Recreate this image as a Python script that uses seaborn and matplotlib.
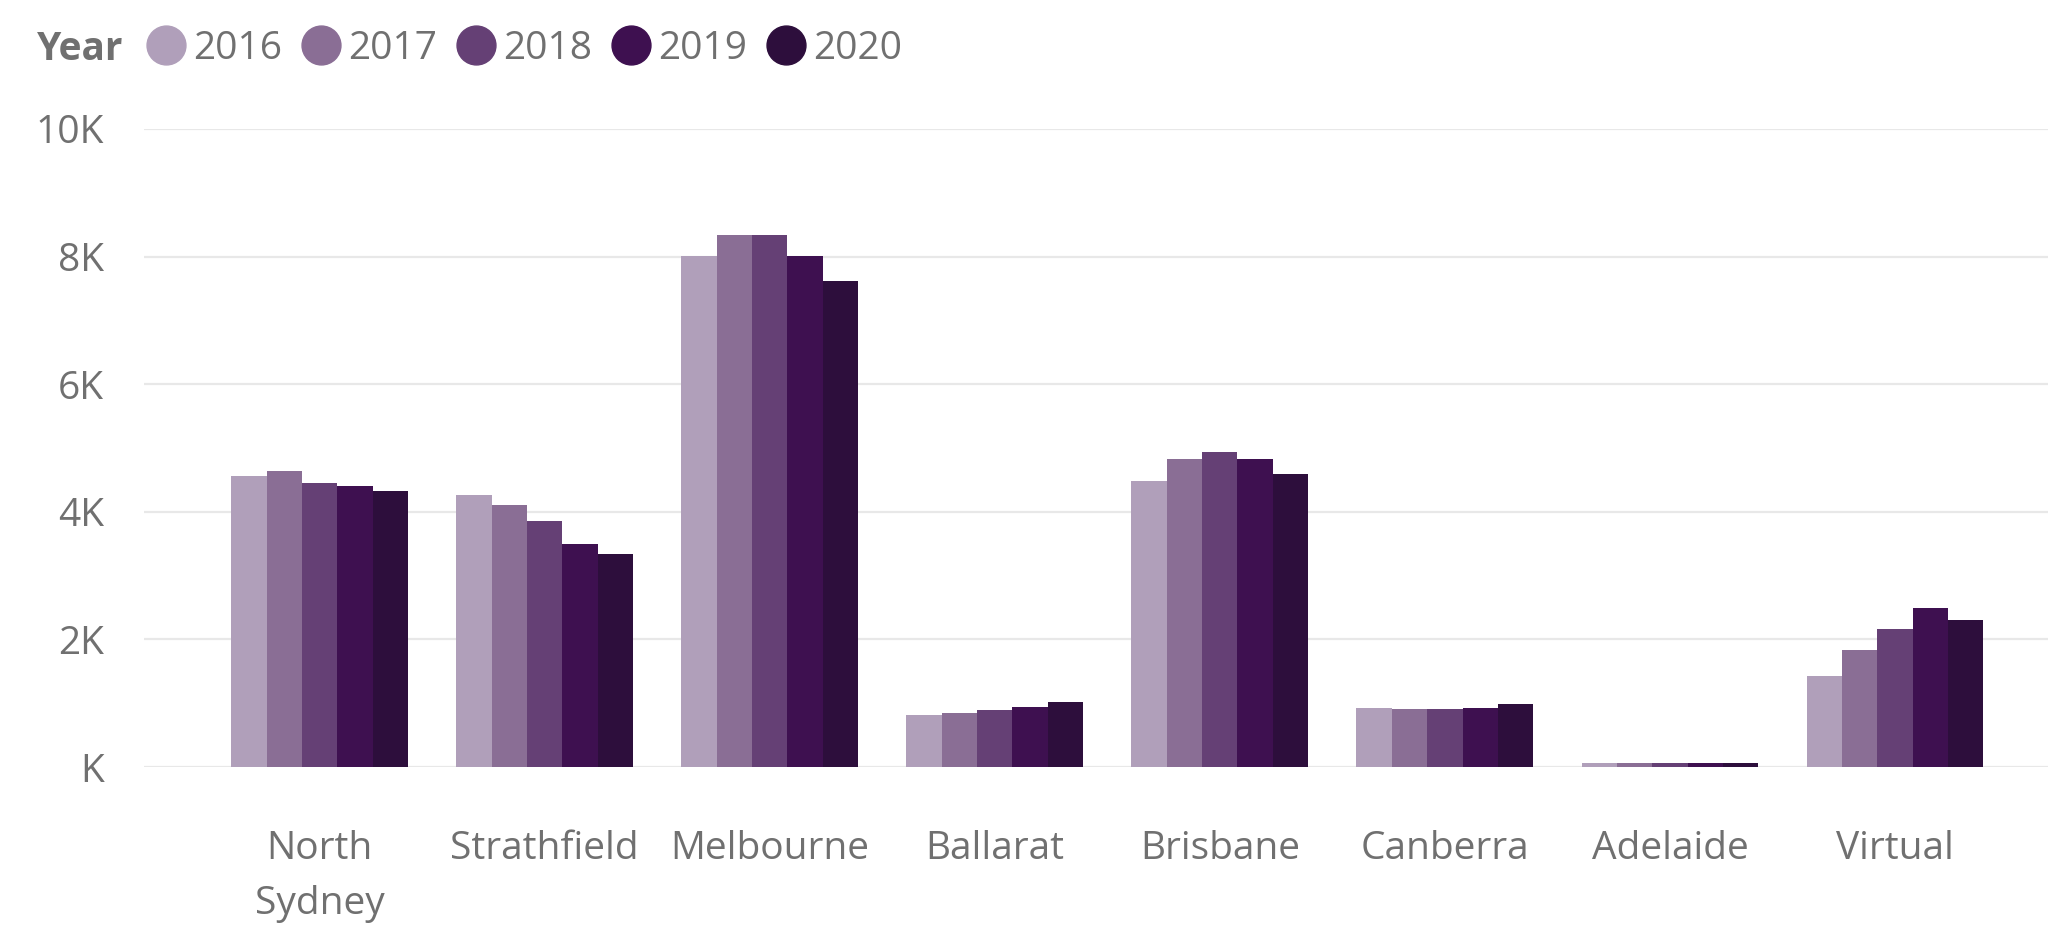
import pandas as pd
import numpy as np
import seaborn as sns
from matplotlib import pyplot as plt
from matplotlib.lines import Line2D
from matplotlib.ticker import FuncFormatter

## DATA ##
offices = ["North\nSydney", "Strathfield", "Melbourne", "Ballarat",
           "Brisbane", "Canberra", "Adelaide", "Virtual"]
years = ["2016", "2017", "2018", "2019", "2020"]
y2016 = [4560, 4270, 8010, 815, 4480, 920, 60, 1420]
y2017 = [4640, 4110, 8340, 846, 4830, 905, 60, 1830]
y2018 = [4450, 3860, 8340, 893, 4940, 905, 60, 2170]
y2019 = [4410, 3500, 8010, 940, 4830, 920, 60, 2490]
y2020 = [4330, 3340, 7620, 1018, 4590, 985, 60, 2300]
colors = ["#B09FBA", "#8A6E95", "#654075", "#3E1050", "#2D0E3C"]

df = pd.DataFrame({"Office": offices, "2016": y2016, "2017": y2017,
                   "2018": y2018, "2019": y2019, "2020": y2020})
df = df.melt(id_vars="Office", var_name="Year", value_name="Value")

## STYLE ##
sns.set_style("white")
plt.rcParams['font.family'] = ['Open Sans', 'DejaVu Sans']
text_col = "#707070"
fs = 28

fig = plt.figure(figsize=(20.48, 9.26), dpi=100)
ax = fig.add_axes([0.0703, 0.1717, 0.9297, 0.689])

sns.barplot(data=df, x="Office", y="Value", hue="Year", hue_order=years,
            palette=colors, saturation=1, width=0.785, legend=False,
            linewidth=0, edgecolor="none", ax=ax)

ax.set_ylim(0, 10000)
ax.set_xlim(-0.78, 7.68)
ax.set_yticks([0, 2000, 4000, 6000, 8000, 10000])
ax.yaxis.set_major_formatter(FuncFormatter(lambda v, p: f"{int(v/1000)}K" if v else "K"))
ax.grid(axis="y", color="#E8E8E8", linewidth=1.6)
ax.set_axisbelow(True)
sns.despine(ax=ax, left=True, bottom=True)
ax.set_xlabel("")
ax.set_ylabel("")
ax.tick_params(axis="y", length=0, pad=29, labelsize=fs, labelcolor=text_col)
ax.tick_params(axis="x", length=0, pad=45, labelsize=fs, labelcolor=text_col)
for lbl in ax.get_xticklabels():
    lbl.set_linespacing(1.62)
    lbl.set_verticalalignment("top")

# legend across the top
fig.text(0.018, 0.947, "Year", fontsize=fs, fontweight="bold", color=text_col,
         va="center", ha="left")
handles = [Line2D([], [], marker="o", linestyle="", markersize=28,
                  markerfacecolor=c, markeredgecolor=c) for c in colors]
fig.legend(handles, years, loc="center left", bbox_to_anchor=(0.0715, 0.947),
           ncols=5, frameon=False, fontsize=fs, labelcolor=text_col,
           handlelength=1.0, handletextpad=0.19, columnspacing=0.51,
           borderpad=0, borderaxespad=0)

plt.savefig("out.png", dpi=100)
plt.close('all')
